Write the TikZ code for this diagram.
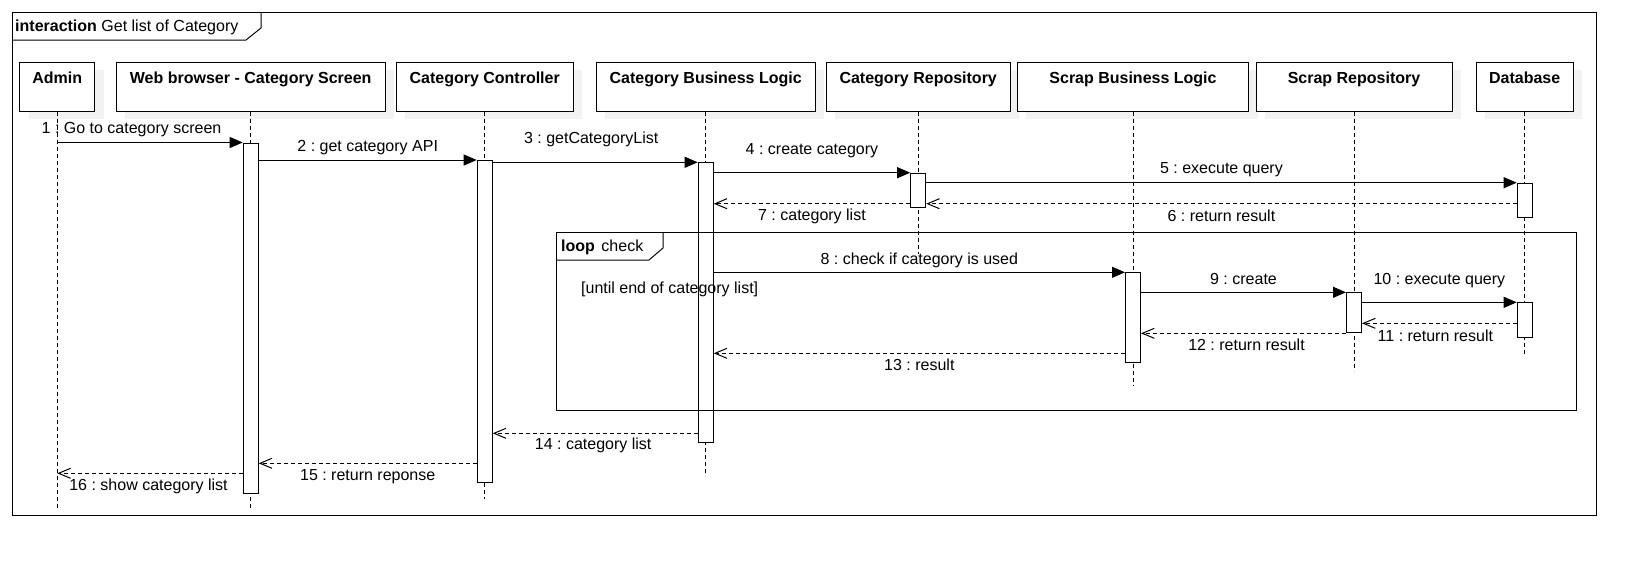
\documentclass[tikz,border=0pt]{standalone}
\usepackage{fontspec}
\setmainfont{Liberation Sans}
\frenchspacing
\usetikzlibrary{
    positioning,   % Relative positioning
    arrows.meta,   % Modern arrow tips
    shadows        % Shadows behind the lifeline heads
}
\tikzset{head/.style={
    draw, line width=1pt, fill=white, minimum width=#1, minimum height=48.7pt,
    inner xsep=0pt, inner ysep=9.5pt, text height=11.5pt, text depth=18.2pt,
    font=\fontsize{16}{19}\selectfont\bfseries,
    drop shadow={shadow xshift=9pt, shadow yshift=-8pt, fill=black!5, opacity=1}
}}
\tikzset{act/.style={
    draw, line width=1pt, fill=white, minimum width=15pt, inner sep=0pt, anchor=north
}}
\tikzset{lifeline/.style={line width=1pt, dash pattern=on 4pt off 3pt}}
\tikzset{frame/.style={line width=1pt}}
\tikzset{call/.style={line width=1pt, -{Triangle[length=13pt,width=11pt]}}}
\tikzset{reply/.style={
    line width=1pt, dash pattern=on 4pt off 3pt, -{Straight Barb[length=12pt,width=10pt]}
}}
\tikzset{lblup/.style={midway, inner sep=0pt, text height=11.5pt, text depth=3.5pt, yshift=#1},
    lblup/.default=13pt}
\tikzset{lbldown/.style={midway, inner sep=0pt, text height=11.5pt, text depth=3.5pt, yshift=-#1},
    lbldown/.default=13pt}

\begin{document}
\begin{tikzpicture}[x=1pt, y=-1pt, font=\fontsize{16}{19}\selectfont]
    \useasboundingbox (0,0) rectangle (1646,566);

    % interaction frame
    \draw[frame] (12.5,12.7) rectangle (1596,515.7);
    \draw[frame] (12.5,40) -- (246,40) -- (261,28) -- (261,12.7);
    \node[anchor=base west, inner sep=0pt] (title) at (15,31.5) {\textbf{interaction} Get list of Category};

    % lifeline heads
    \node[head=75pt] (admin) at (57.3,86.7) {Admin};
    \node[head=269pt, right=20.4pt of admin] (web) {Web browser - Category Screen};
    \node[head=177pt, right=10pt of web] (ctrl) {Category Controller};
    \node[head=219pt, right=22pt of ctrl] (catbl) {Category Business Logic};
    \node[head=184pt, right=10pt of catbl] (catrepo) {Category Repository};
    \node[head=231.6pt, right=6pt of catrepo] (scrapbl) {Scrap Business Logic};
    \node[head=196pt, right=6.2pt of scrapbl] (scraprepo) {Scrap Repository};
    \node[head=97pt, right=23.2pt of scraprepo] (db) {Database};

    % lifelines
    \draw[lifeline] (admin.south) -- ++(0,396);
    \draw[lifeline] (web.south) -- ++(0,396);
    \draw[lifeline] (ctrl.south) -- ++(0,387);
    \draw[lifeline] (catbl.south) -- ++(0,364);
    \draw[lifeline] (catrepo.south) -- ++(0,142);
    \draw[lifeline] (scrapbl.south) -- ++(0,274);
    \draw[lifeline] (scraprepo.south) -- ++(0,259);
    \draw[lifeline] (db.south) -- ++(0,244);

    % activations
    \node[act, minimum height=350.2pt] (webact) at (web |- 0,142.5) {};
    \node[act, minimum height=322.3pt] (ctrlact) at (ctrl |- 0,160) {};
    \node[act, minimum height=280pt] (catblact) at (catbl |- 0,162.3) {};
    \node[act, minimum height=34pt] (repoact) at (catrepo |- 0,172.7) {};
    \node[act, minimum height=34pt] (dbact) at (db |- 0,182.7) {};
    \node[act, minimum height=90pt] (scrapblact) at (scrapbl |- 0,272.3) {};
    \node[act, minimum height=40pt] (srepoact) at (scraprepo |- 0,292.3) {};
    \node[act, minimum height=35pt] (dbacttwo) at (db |- 0,302.3) {};

    % return rows
    \coordinate (rsix) at ([yshift=4pt]repoact.south);
    \coordinate (releven) at ([yshift=15pt]dbacttwo.south);
    \coordinate (rthirteen) at ([yshift=10pt]scrapblact.south west);
    \coordinate (rfourteen) at ([yshift=10pt]catblact.south west);
    \coordinate (rfifteen) at ([yshift=20pt]ctrlact.south west);
    \coordinate (rsixteen) at ([yshift=20.4pt]webact.south west);

    % messages
    \draw[call] (admin |- webact.north) -- (webact.north west)
        node[lblup=13.5pt, xshift=-18.5pt] {1 : Go to category screen};
    \draw[call] (webact.east |- ctrlact.north) -- (ctrlact.north west)
        node[lblup=12.5pt] {2 : get category API};
    \draw[call] (ctrlact.east |- catblact.north) -- (catblact.north west)
        node[lblup=23pt, xshift=-4pt] {3 : getCategoryList};
    \draw[call] (catblact.east |- repoact.north) -- (repoact.north west)
        node[lblup=22.5pt] {4 : create category};
    \draw[call] (repoact.east |- dbact.north) -- (dbact.north west)
        node[lblup=13.4pt] {5 : execute query};
    \draw[reply] (dbact.west |- rsix) -- (repoact.east |- rsix)
        node[lbldown=13.3pt] {6 : return result};
    \draw[reply] (repoact.west |- rsix) -- (catblact.east |- rsix)
        node[lbldown=12.6pt] {7 : category list};
    \draw[call] (catblact.east |- scrapblact.north) -- (scrapblact.north west)
        node[lblup=12pt] {8 : check if category is used};
    \draw[call] (scrapblact.east |- srepoact.north) -- (srepoact.north west)
        node[lblup=12pt] {9 : create};
    \draw[call] (srepoact.east |- dbacttwo.north) -- (dbacttwo.north west)
        node[lblup=22pt] {10 : execute query};
    \draw[reply] (dbacttwo.west |- releven) -- (srepoact.east |- releven)
        node[lbldown=13.7pt, xshift=-4pt] {11 : return result};
    \draw[reply] (srepoact.south west) -- (scrapblact.east |- srepoact.south)
        node[lbldown=13pt, xshift=3pt] {12 : return result};
    \draw[reply] (rthirteen) -- (catblact.east |- rthirteen)
        node[lbldown=13pt] {13 : result};
    \draw[reply] (rfourteen) -- (ctrlact.east |- rfourteen)
        node[lbldown=12pt, xshift=-2pt] {14 : category list};
    \draw[reply] (rfifteen) -- (webact.east |- rfifteen)
        node[lbldown=12.7pt] {15 : return reponse};
    \draw[reply] (rsixteen) -- (admin |- rsixteen)
        node[lbldown=12.7pt, xshift=-1.5pt] {16 : show category list};

    % loop fragment
    \draw[frame] (556,232.7) rectangle (1576,410.7);
    \draw[frame] (556,260) -- (649,260) -- (663,248) -- (663,232.7);
    \node[anchor=base west, inner sep=0pt] (looplbl) at (561,251) {\textbf{loop}\hspace{6.5pt}check};
    \node[anchor=base west, inner sep=0pt] (guard) at (581,293) {[until end of category list]};
\end{tikzpicture}
\end{document}
